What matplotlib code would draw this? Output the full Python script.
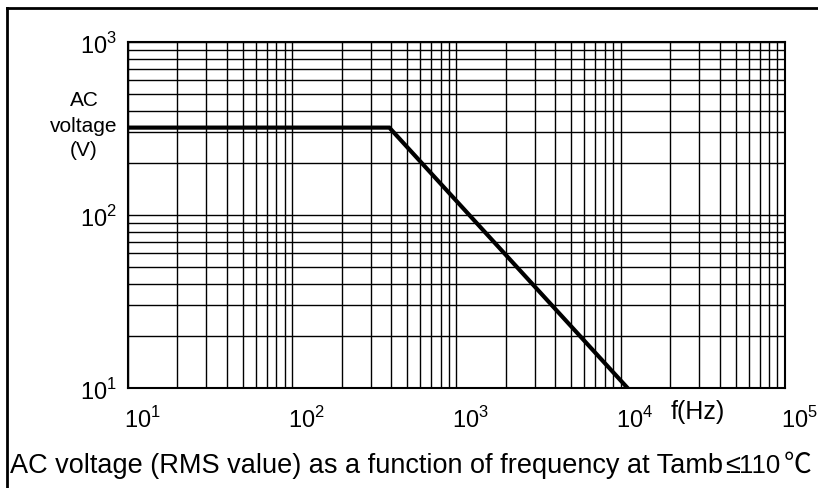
import numpy as np
import matplotlib
matplotlib.use("Agg")
from matplotlib import pyplot as plt
from matplotlib.lines import Line2D
from matplotlib.ticker import LogLocator, NullFormatter
import matplotlib.transforms as mtransforms

plt.rcParams['font.family'] = ['Liberation Sans', 'Noto Sans CJK SC', 'DejaVu Sans']
plt.rcParams['mathtext.fontset'] = 'custom'
plt.rcParams['mathtext.rm'] = 'Liberation Sans'

# data
freq = [10, 390, 11000]
volt = [320, 320, 10]

x_ticks = [1e1, 1e2, 1e3, 1e4, 1e5]
x_labels = ['$10^1$', '$10^2$', '$10^3$', '$10^4$', '$10^5$']
y_ticks = [1e1, 1e2, 1e3]
y_labels = ['$10^1$', '$10^2$', '$10^3$']

title_parts = ['AC voltage (RMS value) as a function of frequency at Tamb', '\u2264', '110', '\u2103']

fig = plt.figure(figsize=(8.18, 4.89), dpi=100)
ax = fig.add_axes([128/818, 1-389/489, (785-128)/818, (389-43)/489])

ax.plot(freq, volt, color='black', lw=3, solid_joinstyle='miter')
ax.set_xscale('log')
ax.set_yscale('log')
ax.set_xlim(1e1, 1e5)
ax.set_ylim(1e1, 1e3)

ax.xaxis.set_minor_locator(LogLocator(base=10, subs=np.arange(2, 10)))
ax.yaxis.set_minor_locator(LogLocator(base=10, subs=np.arange(2, 10)))
ax.xaxis.set_minor_formatter(NullFormatter())
ax.yaxis.set_minor_formatter(NullFormatter())
ax.grid(True, which='both', color='black', lw=1)

ax.set_xticks(x_ticks)
ax.set_xticklabels(x_labels, fontsize=17)
ax.set_yticks(y_ticks)
ax.set_yticklabels(y_labels, fontsize=17)
ax.tick_params(which='both', length=0)
ax.tick_params(axis='x', pad=13)
ax.tick_params(axis='y', pad=8)

shift = mtransforms.ScaledTranslation(14/100, 0, fig.dpi_scale_trans)
for lab in ax.get_xticklabels():
    lab.set_transform(lab.get_transform() + shift)

for s in ax.spines.values():
    s.set_linewidth(1.5)
    s.set_color('black')

fig.text(84/818, 1-126/489, 'AC\nvoltage\n(V)', ha='center', va='center',
         fontsize=15, linespacing=1.4)
fig.text(698/818, 1-412/489, 'f(Hz)', ha='center', va='center', fontsize=18)

# title in pieces: the tail (<=110 degC) is set tighter in the original
part_x = [10, 725, 739, 784]
part_size = [19.5, 19.5, 18.5, 20]
part_fam = [['Liberation Sans', 'DejaVu Sans'],
            ['Liberation Sans', 'DejaVu Sans'],
            ['Liberation Sans', 'DejaVu Sans'],
            ['Noto Sans CJK SC', 'DejaVu Sans']]
for part, px, fs, fam in zip(title_parts, part_x, part_size, part_fam):
    fig.text(px/818, 1-473/489, part, ha='left', va='baseline',
             fontsize=fs, family=fam)

# outer frame (top and left only)
fig.add_artist(Line2D([7/818, 1], [1-9/489, 1-9/489], color='black', lw=2,
                      transform=fig.transFigure))
fig.add_artist(Line2D([7/818, 7/818], [0, 1-9/489], color='black', lw=2,
                      transform=fig.transFigure))

fig.savefig('out.png', dpi=100)
